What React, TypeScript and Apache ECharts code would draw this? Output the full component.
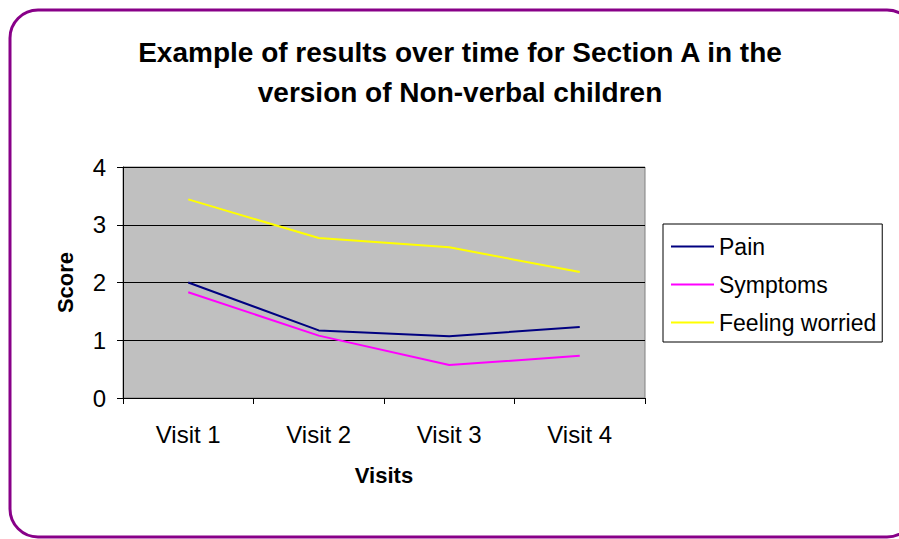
import React, { useEffect, useRef } from "react";
import * as echarts from "echarts";

const categories = ["Visit 1", "Visit 2", "Visit 3", "Visit 4"];
const painValues = [2.0, 1.17, 1.07, 1.23];
const symptomsValues = [1.83, 1.08, 0.57, 0.73];
const worriedValues = [3.44, 2.77, 2.61, 2.18];
const seriesNames = ["Pain", "Symptoms", "Feeling worried"];
const seriesColors = ["#000080", "#FF00FF", "#FFFF00"];
const titleText = "Example of results over time for Section A in the\nversion of Non-verbal children";

const FONT = "'Liberation Sans', Arial, sans-serif";

export default function App() {
  const ref = useRef<HTMLDivElement>(null);
  useEffect(() => {
    if (!ref.current) return;
    const chart = echarts.init(ref.current, undefined, { renderer: "svg" });
    const values = [painValues, symptomsValues, worriedValues];
    chart.setOption({
      animation: false,
      backgroundColor: "#ffffff",
      textStyle: { fontFamily: FONT },
      graphic: [
        {
          type: "rect",
          shape: { x: 10, y: 10, width: 905, height: 527, r: 28 },
          style: { fill: "none", stroke: "#880088", lineWidth: 3 },
          silent: true,
        },
        {
          type: "text",
          x: 460,
          y: 32,
          silent: true,
          style: {
            text: titleText,
            fill: "#000",
            font: `bold 28px ${FONT}`,
            lineHeight: 40,
            align: "center",
            verticalAlign: "top",
          },
        },
      ],
      legend: {
        orient: "vertical",
        left: 663,
        top: 224,
        padding: [11, 6, 8, 8],
        itemWidth: 43,
        itemHeight: 2,
        itemGap: 15,
        icon: "rect",
        borderColor: "#000",
        borderWidth: 1,
        backgroundColor: "#fff",
        textStyle: { fontFamily: FONT, fontSize: 23, lineHeight: 22, color: "#000" },
        data: seriesNames,
      },
      grid: {
        left: 123,
        top: 167,
        width: 522,
        height: 231,
        show: true,
        backgroundColor: "#C0C0C0",
        borderColor: "#808080",
        borderWidth: 1,
      },
      xAxis: {
        type: "category",
        data: categories,
        boundaryGap: true,
        name: "Visits",
        nameLocation: "middle",
        nameGap: 66,
        nameTextStyle: { fontFamily: FONT, fontSize: 22, fontWeight: "bold", color: "#000" },
        axisLine: { show: true, lineStyle: { color: "#000", width: 1 } },
        axisTick: { show: true, length: 6, inside: false, alignWithLabel: false, lineStyle: { color: "#000" } },
        axisLabel: { fontFamily: FONT, fontSize: 24, color: "#000", margin: 24 },
        splitLine: { show: false },
      },
      yAxis: {
        type: "value",
        min: 0,
        max: 4,
        interval: 1,
        name: "Score",
        nameLocation: "middle",
        nameGap: 47,
        nameRotate: 90,
        nameTextStyle: { fontFamily: FONT, fontSize: 22, fontWeight: "bold", color: "#000" },
        axisLine: { show: true, lineStyle: { color: "#000", width: 1 } },
        axisTick: { show: true, length: 6, inside: false, lineStyle: { color: "#000" } },
        axisLabel: { fontFamily: FONT, fontSize: 24, color: "#000", margin: 17 },
        splitLine: { show: true, lineStyle: { color: "#000", width: 1 } },
      },
      series: seriesNames.map((name, i) => ({
        name,
        type: "line",
        data: values[i],
        symbol: "none",
        showSymbol: false,
        lineStyle: { color: seriesColors[i], width: 2 },
        itemStyle: { color: seriesColors[i] },
        z: 3 + i,
      })),
    });
    return () => chart.dispose();
  }, []);
  return (
    <div
      ref={ref}
      style={{ position: "absolute", left: 0, top: 0, width: 899, height: 539, background: "#fff" }}
    />
  );
}
